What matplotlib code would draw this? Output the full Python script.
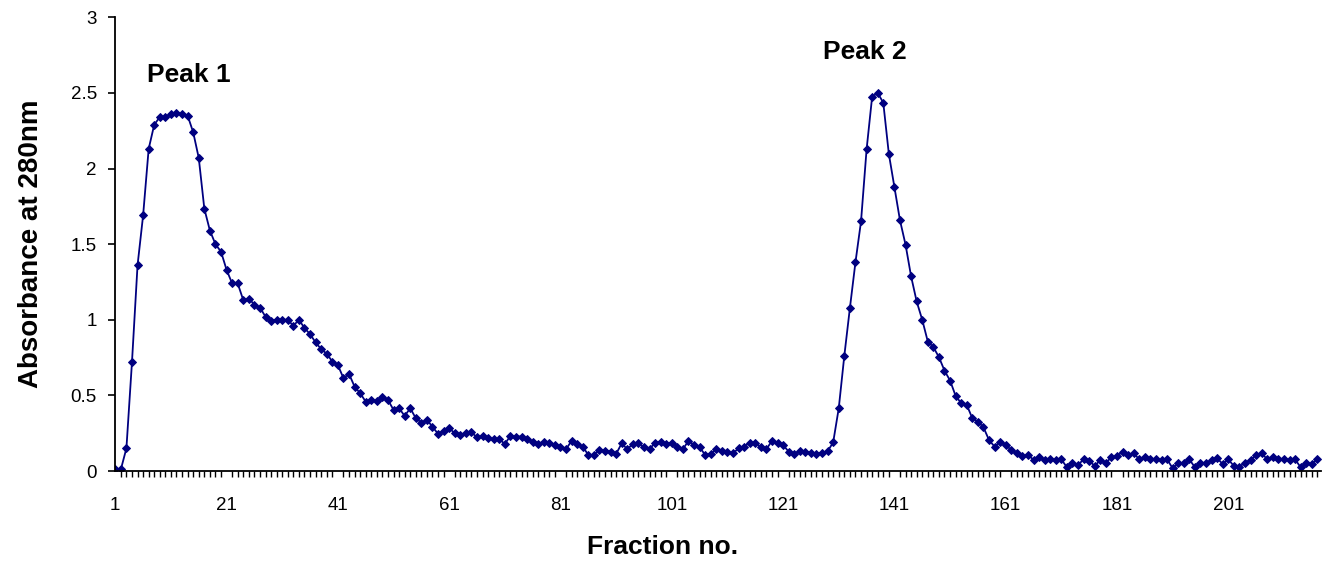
import numpy as np
import matplotlib
matplotlib.use("Agg")
import matplotlib.pyplot as plt
from matplotlib.ticker import FixedLocator

plt.rcParams['font.family'] = ['Liberation Sans', 'DejaVu Sans']

absorbance = [
    0.01, 0.01, 0.15, 0.72, 1.36, 1.69, 2.13, 2.29, 2.34, 2.34,
    2.36, 2.37, 2.36, 2.35, 2.24, 2.07, 1.735, 1.59, 1.50, 1.45,
    1.33, 1.24, 1.24, 1.13, 1.14, 1.10, 1.08, 1.02, 0.995, 1.00,
    1.00, 1.00, 0.96, 1.00, 0.945, 0.905, 0.85, 0.806, 0.775, 0.724,
    0.70, 0.614, 0.642, 0.558, 0.514, 0.459, 0.47, 0.46, 0.488, 0.47,
    0.404, 0.415, 0.364, 0.415, 0.349, 0.32, 0.338, 0.293, 0.245, 0.267,
    0.283, 0.25, 0.238, 0.25, 0.255, 0.223, 0.23, 0.216, 0.21, 0.21,
    0.179, 0.232, 0.228, 0.228, 0.21, 0.194, 0.179, 0.195, 0.185, 0.175,
    0.161, 0.144, 0.20, 0.179, 0.161, 0.106, 0.106, 0.14, 0.135, 0.128,
    0.113, 0.183, 0.144, 0.179, 0.183, 0.157, 0.144, 0.188, 0.194, 0.179,
    0.188, 0.161, 0.144, 0.20, 0.172, 0.157, 0.106, 0.113, 0.144, 0.135,
    0.128, 0.117, 0.15, 0.161, 0.188, 0.188, 0.157, 0.144, 0.20, 0.183,
    0.172, 0.128, 0.115, 0.13, 0.128, 0.121, 0.115, 0.121, 0.13, 0.19,
    0.415, 0.762, 1.077, 1.38, 1.65, 2.126, 2.475, 2.50, 2.435, 2.097,
    1.876, 1.658, 1.497, 1.287, 1.121, 1.00, 0.856, 0.819, 0.753, 0.664,
    0.598, 0.497, 0.448, 0.437, 0.349, 0.327, 0.289, 0.205, 0.161, 0.194,
    0.172, 0.139, 0.117, 0.10, 0.105, 0.075, 0.09, 0.073, 0.077, 0.073,
    0.077, 0.024, 0.05, 0.04, 0.077, 0.068, 0.033, 0.073, 0.055, 0.09,
    0.099, 0.128, 0.106, 0.117, 0.077, 0.09, 0.077, 0.077, 0.073, 0.077,
    0.018, 0.05, 0.05, 0.077, 0.024, 0.05, 0.05, 0.073, 0.084, 0.046,
    0.077, 0.033, 0.029, 0.055, 0.073, 0.106, 0.117, 0.077, 0.09, 0.077,
    0.077, 0.073, 0.077, 0.024, 0.05, 0.046, 0.077,
]
fractions = np.arange(1, len(absorbance) + 1)
x_tick_labels = [1, 21, 41, 61, 81, 101, 121, 141, 161, 181, 201]
y_ticks = [0, 0.5, 1, 1.5, 2, 2.5, 3]
y_tick_labels = ['0', '0.5', '1', '1.5', '2', '2.5', '3']
peak_labels = ["Peak 1", "Peak 2"]
peak_label_pos = [(14.3, 2.62), (135.6, 2.77)]

fig = plt.figure(figsize=(13.24, 5.61), dpi=100)
ax = fig.add_axes([115 / 1324, 1 - 471 / 561, (1320.7 - 115) / 1324, (471 - 17.3) / 561])

ax.plot(fractions, absorbance, color='#000080', linewidth=1.3,
        marker='D', markersize=4.0, markerfacecolor='#000080',
        markeredgecolor='#000080', markeredgewidth=0.7)

ax.set_xlim(0.95, 217.6)
ax.set_ylim(0, 3)

for s in ['top', 'right']:
    ax.spines[s].set_visible(False)
for s in ['left', 'bottom']:
    ax.spines[s].set_linewidth(1.3)
    ax.spines[s].set_color('black')

ax.set_yticks(y_ticks)
ax.set_yticklabels(y_tick_labels)
ax.tick_params(axis='y', direction='out', length=5, width=1.2, pad=8, labelsize=13.5)

ax.xaxis.set_major_locator(FixedLocator(x_tick_labels))
ax.set_xticklabels([str(v) for v in x_tick_labels])
ax.xaxis.set_minor_locator(FixedLocator(fractions))
ax.tick_params(axis='x', which='major', length=0, pad=19, labelsize=13.5)
ax.tick_params(axis='x', which='minor', direction='out', length=4, width=1.0)

ax.set_ylabel('Absorbance at 280nm', fontsize=20, fontweight='bold', labelpad=19)
ax.set_xlabel('Fraction no.', fontsize=19, fontweight='bold', labelpad=15,
              x=(663 - 115) / (1320.7 - 115))

for txt, (px, py) in zip(peak_labels, peak_label_pos):
    ax.text(px, py, txt, fontsize=19, fontweight='bold', ha='center', va='center')

fig.savefig('out.png', dpi=100)
